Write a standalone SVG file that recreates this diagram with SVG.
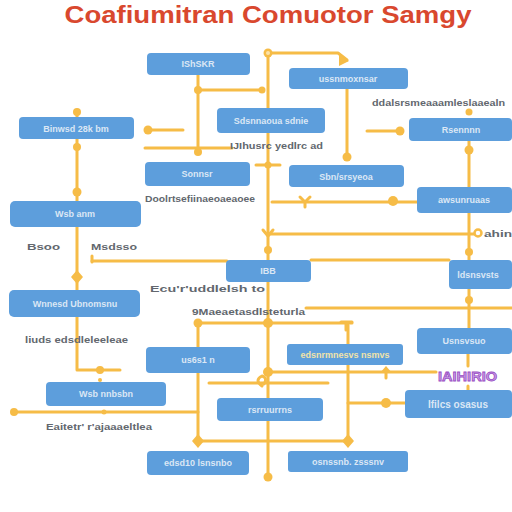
<svg xmlns="http://www.w3.org/2000/svg" width="512" height="512" viewBox="0 0 512 512">
<style>
.n{fill:#5d9edc}
.t{font-family:"Liberation Sans",Arial,sans-serif;font-size:9px;font-weight:bold;fill:#dbe7f5;text-anchor:middle}
.g{font-family:"Liberation Sans",Arial,sans-serif;font-size:9.5px;font-weight:bold;fill:#62676e}
.c{fill:none;stroke:#f6bc47;stroke-width:3;stroke-linecap:round;stroke-linejoin:round}
.d{fill:#f6bc47}
</style>
<rect width="512" height="512" fill="#ffffff"/>
<text x="268" y="23" text-anchor="middle" font-family="Liberation Sans,Arial,sans-serif" font-size="24" font-weight="bold" fill="#d9482e" textLength="407" lengthAdjust="spacingAndGlyphs">Coafiumitran Comuotor Samgy</text>
<g id="connectors">
<path class="c" d="M268,53 V478"/>
<path class="c" d="M268,53 H338 L347,60"/>
<path class="c" d="M198,75 V153"/>
<path class="c" d="M198,90 H262"/>
<path class="c" d="M145,148 H232"/>
<path class="c" d="M183,130 H148"/>
<path class="c" d="M77,110 V370 H120"/>
<path class="c" d="M347,89 V157"/>
<path class="c" d="M367,131 H400"/>
<path class="c" d="M469,141 V187"/>
<path class="c" d="M272,202 H418"/>
<path class="c" d="M268,234 H478"/>
<path class="c" d="M469,213 V260"/>
<path class="c" d="M311,260 H449"/>
<path class="c" d="M92,261 H227"/>
<path class="c" d="M469,289 V329"/>
<path class="c" d="M306,308 H512"/>
<path class="c" d="M198,323 H352"/>
<path class="c" d="M198,323 V441 H348 V325"/>
<path class="c" d="M268,372 H436"/>
<path class="c" d="M386,372 V378"/>
<path class="c" d="M348,403 H406"/>
<path class="c" d="M468,354 V366 M468,386 V391"/>
<path class="c" d="M209,383 H328" stroke-width="5" stroke="#f8c876"/>
<path class="c" d="M262,386 q-8,-6 0,-10 q6,2 2,8"/>
<path class="c" d="M14,412 H198"/>
<path class="c" d="M256,165 H280"/>
<path class="c" d="M92,256 V262"/>
<circle class="d" cx="268" cy="53" r="4.5"/>
<circle cx="268" cy="53" r="2" fill="#fbe2a8"/>
<path class="d" d="M339,55 L349,61 L339,66 Z"/>
<circle class="d" cx="198" cy="90" r="4"/>
<circle class="d" cx="262" cy="90" r="3.5"/>
<circle class="d" cx="198" cy="152" r="4"/>
<circle class="d" cx="148" cy="130" r="4.5"/>
<circle class="d" cx="77" cy="112" r="4"/>
<circle class="d" cx="77" cy="147" r="4"/>
<circle class="d" cx="77" cy="192" r="4.5"/>
<path class="d" d="M77,270 L83,277 L77,284 L71,277 Z"/>
<circle class="d" cx="100" cy="370" r="4"/>
<circle class="d" cx="100" cy="380" r="2"/>
<circle class="d" cx="347" cy="157" r="4.5"/>
<circle class="d" cx="400" cy="131" r="4.5"/>
<circle class="d" cx="469" cy="112" r="3.5"/>
<circle class="d" cx="469" cy="150" r="4.5"/>
<path class="c" d="M300,197 L305,202 L310,197 M305,202 V207"/>
<circle class="d" cx="393" cy="201" r="5"/>
<circle class="d" cx="268" cy="165" r="3.5"/>
<path class="c" d="M263,230 L268,236 L273,230"/>
<circle class="d" cx="268" cy="250" r="4"/>
<circle fill="#fff" stroke="#f6bc47" stroke-width="2.5" cx="478" cy="233" r="3.5"/>
<circle class="d" cx="469" cy="252" r="4"/>
<circle class="d" cx="469" cy="300" r="4"/>
<circle class="d" cx="198" cy="323" r="4.5"/>
<circle class="d" cx="268" cy="323" r="5"/>
<path class="c" d="M341,322 H352 M346,322 V330"/>
<circle class="d" cx="268" cy="372" r="5"/>
<path class="d" d="M380,373 L386,366 L392,373 Z"/>
<circle class="d" cx="386" cy="403" r="5"/>
<path class="d" d="M198,434 L204,441 L198,448 L192,441 Z"/>
<path class="d" d="M348,434 L354,441 L348,448 L342,441 Z"/>
<circle class="d" cx="14" cy="412" r="4"/>
<circle class="d" cx="104" cy="412" r="2.5"/>
<circle class="d" cx="268" cy="477" r="4.5"/>
</g>
<g id="node1"><rect class="n" x="147" y="53" width="103" height="22" rx="4"/><text class="t" x="198" y="67">IShSKR</text></g>
<g id="node2"><rect class="n" x="289" y="68" width="119" height="21" rx="4"/><text class="t" x="348" y="82">ussnmoxnsar</text></g>
<g id="node3"><rect class="n" x="217" y="108" width="108" height="25" rx="4"/><text class="t" x="271" y="124">Sdsnnaoua sdnie</text></g>
<g id="node4"><rect class="n" x="19" y="117" width="115" height="22" rx="4"/><text class="t" x="76" y="132">Binwsd 28k bm</text></g>
<g id="node5"><rect class="n" x="409" y="118" width="103" height="23" rx="4"/><text class="t" x="461" y="133">Rsennnn</text></g>
<g id="node6"><rect class="n" x="145" y="162" width="105" height="24" rx="4"/><text class="t" x="197" y="177">Sonnsr</text></g>
<g id="node7"><rect class="n" x="289" y="165" width="115" height="22" rx="4"/><text class="t" x="346" y="180">Sbn/srsyeoa</text></g>
<g id="node8"><rect class="n" x="10" y="201" width="131" height="26" rx="5"/><text class="t" x="75" y="217">Wsb anm</text></g>
<g id="node9"><rect class="n" x="417" y="187" width="95" height="26" rx="4"/><text class="t" x="464" y="203">awsunruaas</text></g>
<g id="node10"><rect class="n" x="226" y="260" width="85" height="22" rx="4"/><text class="t" x="268" y="274">IBB</text></g>
<g id="node11"><rect class="n" x="449" y="260" width="63" height="29" rx="4"/><text class="t" x="478" y="278">ldsnsvsts</text></g>
<g id="node12"><rect class="n" x="9" y="290" width="131" height="27" rx="5"/><text class="t" x="75" y="307">Wnnesd Ubnomsnu</text></g>
<g id="node13"><rect class="n" x="146" y="347" width="104" height="26" rx="4"/><text class="t" x="198" y="363">us6s1 n</text></g>
<g id="node14"><rect class="n" x="287" y="344" width="116" height="21" rx="3"/><text class="t" x="345" y="358" style="fill:#f1e3a8">edsnrmnesvs nsmvs</text></g>
<g id="node15"><rect class="n" x="417" y="328" width="95" height="26" rx="4"/><text class="t" x="464" y="344">Usnsvsuo</text></g>
<g id="node16"><rect class="n" x="46" y="382" width="120" height="24" rx="4"/><text class="t" x="106" y="397">Wsb nnbsbn</text></g>
<g id="node17"><rect class="n" x="405" y="390" width="107" height="28" rx="4"/><text class="t" x="458" y="408" style="font-size:10px">Ifilcs osasus</text></g>
<g id="node18"><rect class="n" x="217" y="398" width="106" height="23" rx="4"/><text class="t" x="270" y="413">rsrruurrns</text></g>
<g id="node19"><rect class="n" x="147" y="451" width="102" height="24" rx="4"/><text class="t" x="198" y="466">edsd10 lsnsnbo</text></g>
<g id="node20"><rect class="n" x="288" y="451" width="120" height="21" rx="3"/><text class="t" x="348" y="465">osnssnb. zsssnv</text></g>
<g id="labels">
<text class="g" x="230" y="149" textLength="93" lengthAdjust="spacingAndGlyphs">IJIhusrc yedlrc ad</text>
<text class="g" x="145" y="202" textLength="110" lengthAdjust="spacingAndGlyphs">Doolrtsefiinaeoaeaoee</text>
<text class="g" x="372" y="106" textLength="133" lengthAdjust="spacingAndGlyphs">ddalsrsmeaaamleslaaealn</text>
<text class="g" x="27" y="250" textLength="33" lengthAdjust="spacingAndGlyphs">Bsoo</text>
<text class="g" x="91" y="250" textLength="46" lengthAdjust="spacingAndGlyphs">Msdsso</text>
<text class="g" x="150" y="292" textLength="115" lengthAdjust="spacingAndGlyphs">Ecu'r'uddlelsh  to</text>
<text class="g" x="192" y="315" textLength="113" lengthAdjust="spacingAndGlyphs">9Maeaetasdlsteturla</text>
<text class="g" x="25" y="343" textLength="103" lengthAdjust="spacingAndGlyphs">liuds edsdleleeleae</text>
<text class="g" x="46" y="430" textLength="106" lengthAdjust="spacingAndGlyphs">Eaitetr' r'ajaaaeltlea</text>
<text class="g" x="484" y="237" textLength="28" lengthAdjust="spacingAndGlyphs">ahin</text>
<text x="438" y="381" font-family="Liberation Sans,Arial,sans-serif" font-size="13" font-weight="bold" fill="#c9a0e8" stroke="#9b4fc4" stroke-width="0.8" textLength="59" lengthAdjust="spacingAndGlyphs">IAIHIRIO</text>
</g>
</svg>
